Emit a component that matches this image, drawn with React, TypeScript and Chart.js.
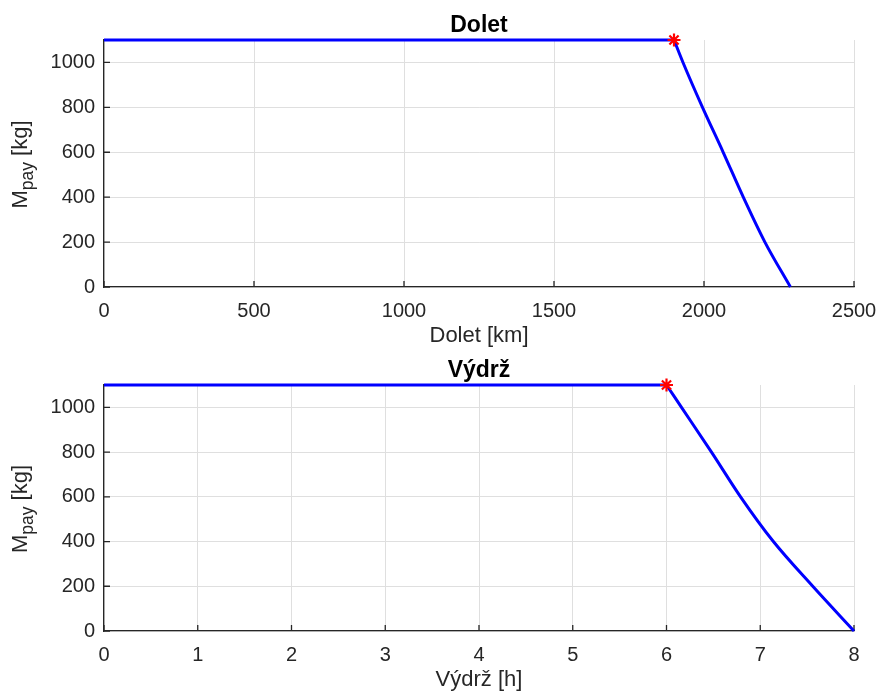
import React, { useEffect, useRef } from "react";
import { Chart, registerables } from "chart.js";

Chart.register(...registerables);

// ---- data ----
const rangeKm = [0, 1900, 1930, 1995, 2064, 2131, 2203, 2288];
const rangePayloadKg = [1100, 1100, 1000, 800, 600, 400, 200, 0];
const rangeDesignKm = [1900];
const rangeDesignPayloadKg = [1100];

const enduranceH = [0, 6, 6.16, 6.48, 6.79, 7.14, 7.56, 8];
const endurancePayloadKg = [1100, 1100, 1000, 800, 600, 400, 200, 0];
const enduranceDesignH = [6];
const enduranceDesignPayloadKg = [1100];

const rangeTicks = [0, 500, 1000, 1500, 2000, 2500];
const enduranceTicks = [0, 1, 2, 3, 4, 5, 6, 7, 8];
const payloadTicks = [0, 200, 400, 600, 800, 1000];

const FONT = '"Liberation Sans", Arial, Helvetica, sans-serif';
const AX = "#262626";
const GRID = "#dfdfdf";

type SubProps = {
  title: string;
  xLabel: string;
  xs: number[];
  ys: number[];
  dx: number[];
  dy: number[];
  xTicks: number[];
  xMax: number;
  height: number;
  padTop: number;
  xAxisH: number;
  top: number;
};

function SubPlot(p: SubProps) {
  const ref = useRef<HTMLCanvasElement | null>(null);
  useEffect(() => {
    if (!ref.current) return;
    const decor = {
      id: "matlabDecor",
      beforeDatasetsDraw(chart: any) {
        const ctx = chart.ctx;
        const { left, bottom } = chart.chartArea;
        ctx.save();
        ctx.strokeStyle = AX;
        ctx.lineWidth = 1.3;
        const xs = chart.scales.x;
        const ys = chart.scales.y;
        ctx.beginPath();
        p.xTicks.forEach((v) => {
          const px = xs.getPixelForValue(v);
          ctx.moveTo(px, bottom);
          ctx.lineTo(px, bottom - 6);
        });
        payloadTicks.forEach((v) => {
          const py = ys.getPixelForValue(v);
          ctx.moveTo(left, py);
          ctx.lineTo(left + 6, py);
        });
        ctx.stroke();
        ctx.restore();
      },
      afterDraw(chart: any) {
        const ctx = chart.ctx;
        const { left, right, top, bottom } = chart.chartArea;
        const cx = (left + right) / 2;
        ctx.save();
        ctx.textAlign = "center";
        ctx.textBaseline = "alphabetic";
        ctx.fillStyle = "#000";
        ctx.font = `bold 23px ${FONT}`;
        ctx.fillText(p.title, cx, top - 8.5);
        ctx.fillStyle = AX;
        ctx.font = `22px ${FONT}`;
        ctx.fillText(p.xLabel, cx, bottom + 55);
        // y label with subscript
        ctx.translate(27, (top + bottom) / 2 + 1);
        ctx.rotate(-Math.PI / 2);
        ctx.textAlign = "left";
        const mainFont = `22px ${FONT}`;
        const subFont = `17.5px ${FONT}`;
        ctx.font = mainFont;
        const wM = ctx.measureText("M").width;
        const wR = ctx.measureText(" [kg]").width;
        ctx.font = subFont;
        const wS = ctx.measureText("pay").width;
        const x0 = -(wM + wS + wR) / 2;
        ctx.font = mainFont;
        ctx.fillText("M", x0, 0);
        ctx.font = subFont;
        ctx.fillText("pay", x0 + wM, 6);
        ctx.font = mainFont;
        ctx.fillText(" [kg]", x0 + wM + wS, 0);
        ctx.restore();
      },
    };

    const pts = p.xs.map((x, i) => ({ x, y: p.ys[i] }));
    const chart = new Chart(ref.current, {
      type: "scatter",
      data: {
        datasets: [
          {
            data: p.dx.map((x, i) => ({ x, y: p.dy[i] })),
            pointStyle: "star",
            pointRadius: 6.5,
            pointBorderColor: "#ff0000",
            pointBackgroundColor: "#ff0000",
            pointBorderWidth: 2.2,
            showLine: false,
            clip: false,
          } as any,
          {
            data: pts.slice(0, 2),
            showLine: true,
            borderColor: "#0000ff",
            borderWidth: 3,
            pointRadius: 0,
            tension: 0,
            clip: false,
          } as any,
          {
            data: pts.slice(1),
            showLine: true,
            borderColor: "#0000ff",
            borderWidth: 3,
            pointRadius: 0,
            cubicInterpolationMode: "monotone",
            clip: false,
          } as any,
        ],
      },
      options: {
        responsive: false,
        animation: false,
        events: [],
        layout: { padding: { top: p.padTop, right: 25, left: 0, bottom: 0 } },
        plugins: {
          legend: { display: false },
          tooltip: { enabled: false },
          title: { display: false },
        },
        scales: {
          x: {
            type: "linear",
            min: 0,
            max: p.xMax,
            afterBuildTicks: (s: any) => {
              s.ticks = p.xTicks.map((v) => ({ value: v }));
            },
            afterFit: (s: any) => {
              s.height = p.xAxisH;
              s.paddingLeft = 0;
              s.paddingRight = 0;
            },
            grid: { color: GRID, lineWidth: 1, drawTicks: false },
            border: { color: AX, width: 1.3 },
            ticks: {
              color: AX,
              font: { family: FONT, size: 20 },
              padding: 12,
              maxRotation: 0,
              autoSkip: false,
              callback: (v: any) => String(v),
            },
          },
          y: {
            type: "linear",
            min: 0,
            max: 1100,
            afterBuildTicks: (s: any) => {
              s.ticks = payloadTicks.map((v) => ({ value: v }));
            },
            afterFit: (s: any) => {
              s.width = 104;
              s.paddingTop = 0;
              s.paddingBottom = 0;
            },
            grid: { color: GRID, lineWidth: 1, drawTicks: false },
            border: { color: AX, width: 1.3 },
            ticks: {
              color: AX,
              font: { family: FONT, size: 20 },
              padding: 9,
              autoSkip: false,
              callback: (v: any) => String(v),
            },
          },
        },
      } as any,
      plugins: [decor],
    });
    return () => chart.destroy();
  }, []);
  return (
    <canvas
      ref={ref}
      width={879}
      height={p.height}
      style={{ position: "absolute", left: 0, top: p.top, display: "block" }}
    />
  );
}

export default function App() {
  return (
    <div
      style={{
        position: "absolute",
        left: 0,
        top: 0,
        width: 879,
        height: 695,
        background: "#ffffff",
      }}
    >
      <SubPlot
        title="Dolet"
        xLabel="Dolet [km]"
        xs={rangeKm}
        ys={rangePayloadKg}
        dx={rangeDesignKm}
        dy={rangeDesignPayloadKg}
        xTicks={rangeTicks}
        xMax={2500}
        height={347}
        padTop={40}
        xAxisH={60}
        top={0}
      />
      <SubPlot
        title="Výdrž"
        xLabel="Výdrž [h]"
        xs={enduranceH}
        ys={endurancePayloadKg}
        dx={enduranceDesignH}
        dy={enduranceDesignPayloadKg}
        xTicks={enduranceTicks}
        xMax={8}
        height={348}
        padTop={38}
        xAxisH={64}
        top={347}
      />
    </div>
  );
}
